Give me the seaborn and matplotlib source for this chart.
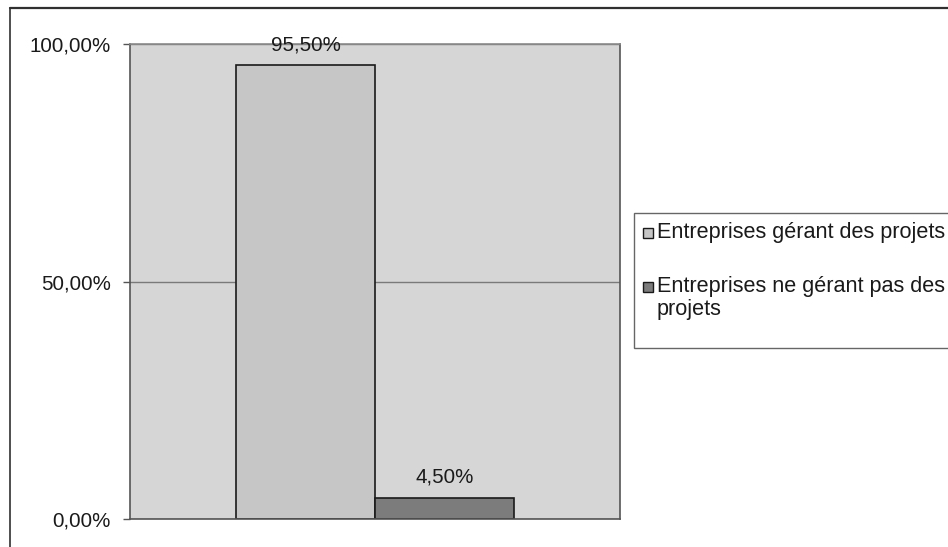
import matplotlib
matplotlib.use("Agg")
import matplotlib.pyplot as plt
import seaborn as sns
import pandas as pd
from matplotlib.patches import Rectangle
from matplotlib.lines import Line2D

# Share of companies that manage projects
series = ["Entreprises gérant des projets", "Entreprises ne gérant pas des\nprojets"]
values = [95.50, 4.50]
category = [""] * len(series)
yticks = [0, 50, 100]
bar_colors = ["#c6c6c6", "#7c7c7c"]

df = pd.DataFrame({"cat": category, "serie": series, "valeur": values})

sns.set_theme(style="white")
plt.rcParams["font.family"] = ["Liberation Sans", "DejaVu Sans"]

W, H = 948, 547
fig = plt.figure(figsize=(W / 100, H / 100), dpi=100)
fig.patch.set_facecolor("white")


def fx(px):
    return px / W


def fy(py):
    return 1 - py / H


# outer frame of the chart object
fig.add_artist(Line2D([fx(10), fx(10)], [0, fy(8)], transform=fig.transFigure,
                      color="#303030", lw=1.2))
fig.add_artist(Line2D([fx(10), 1], [fy(8), fy(8)], transform=fig.transFigure,
                      color="#303030", lw=1.6))

ax = fig.add_axes([fx(130), fy(519), 490 / W, 475 / H])
ax.set_facecolor("#d6d6d6")

sns.barplot(data=df, x="cat", y="valeur", hue="serie", palette=bar_colors,
            width=0.567, dodge=True, edgecolor="#1a1a1a", linewidth=1.2,
            saturation=1, legend=False, ax=ax)

ax.set_xlim(-0.5, 0.5)
ax.set_ylim(0, 100)
ax.set_yticks(yticks)
ax.set_yticklabels([f"{t:.2f}".replace(".", ",") + "%" for t in yticks], fontsize=14.8,
                   color="#1a1a1a")
ax.set_xticks([])
ax.set_xlabel("")
ax.set_ylabel("")
ax.tick_params(axis="y", direction="out", length=5, width=1, color="#555555", pad=9, left=True)

ax.yaxis.grid(True, color="#7a7a7a", lw=1)
ax.set_axisbelow(True)
for side, sp in ax.spines.items():
    sp.set_visible(True)
    sp.set_color("#555555")
    sp.set_linewidth(1.2)
ax.spines["top"].set_color("#8a8a8a")

# value labels above bars
for cont in ax.containers:
    ax.bar_label(cont, labels=[f"{v:.2f}".replace(".", ",") + "%" for v in cont.datavalues],
                 padding=8, fontsize=14.8, color="#1a1a1a")

# legend box on the right, running past the figure edge
fig.add_artist(Rectangle((fx(634), fy(348)), fx(980) - fx(634), fy(213) - fy(348),
                         transform=fig.transFigure, facecolor="white",
                         edgecolor="#666666", lw=1))
entry_rows = [233, 287]
for label, color, row in zip(series, bar_colors, entry_rows):
    fig.add_artist(Rectangle((fx(643), fy(row + 5)), 10 / W, 10 / H,
                             transform=fig.transFigure, facecolor=color,
                             edgecolor="#1a1a1a", lw=1))
    fig.text(fx(657), fy(row - 11), label, ha="left", va="top", fontsize=15.6,
             color="#1a1a1a", linespacing=1.12)

fig.savefig("out.png", dpi=100)
